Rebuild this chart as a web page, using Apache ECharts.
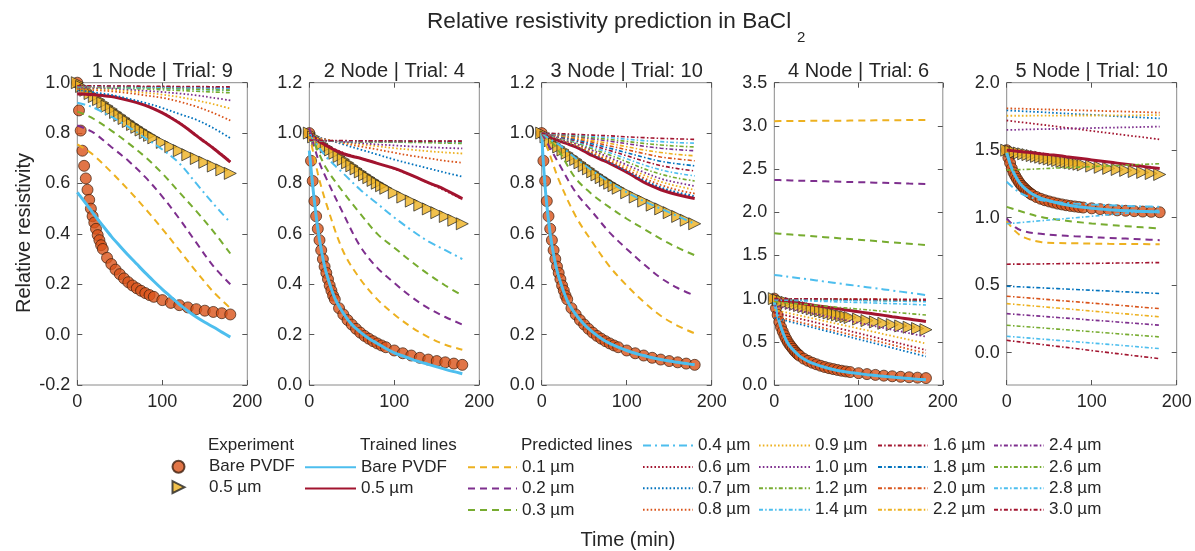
<!DOCTYPE html>
<html><head><meta charset="utf-8">
<script src="https://cdn.jsdelivr.net/npm/echarts@6/dist/echarts.min.js"></script>
<style>html,body{margin:0;padding:0;background:#fff}#c{width:1195px;height:551px}</style>
</head><body><div id="c"></div>
<script>
const FONT = '"Liberation Sans", Arial, Helvetica, sans-serif';
const TXT = '#262626';

const PANEL_TITLES = ['1 Node | Trial: 9', '2 Node | Trial: 4', '3 Node | Trial: 10', '4 Node | Trial: 6', '5 Node | Trial: 10'];
const THICKNESS = ['0.1 µm','0.2 µm','0.3 µm','0.4 µm','0.6 µm','0.7 µm','0.8 µm','0.9 µm','1.0 µm','1.2 µm','1.4 µm','1.6 µm','1.8 µm','2.0 µm','2.2 µm','2.4 µm','2.6 µm','2.8 µm','3.0 µm'];
const X_TICKS = [0, 100, 200];
const Y_MIN = [-0.2, 0, 0, 0, -0.24];
const Y_MAX = [1.0, 1.2, 1.2, 3.5, 2.0];
const Y_TICKS_5 = [0, 0.5, 1.0, 1.5, 2.0];

// Experiment data
const TE = [0,2,4,6,8,10,12,14,16,18,20,22,24,26,28,30,35,40,45,50,55,60,65,70,75,80,85,90,100,110,120,130,140,150,160,170,180];
const EXP_BARE = [1.0,0.89,0.81,0.73,0.67,0.62,0.575,0.535,0.5,0.47,0.445,0.42,0.395,0.375,0.355,0.34,0.305,0.28,0.258,0.24,0.223,0.208,0.195,0.184,0.174,0.165,0.157,0.15,0.137,0.126,0.117,0.108,0.101,0.095,0.09,0.085,0.08];
const EXP_BARE_P5 = [1.5,1.445,1.405,1.365,1.335,1.31,1.288,1.268,1.25,1.235,1.223,1.21,1.198,1.188,1.178,1.17,1.153,1.14,1.129,1.12,1.112,1.104,1.098,1.092,1.087,1.083,1.079,1.075,1.069,1.063,1.059,1.054,1.051,1.048,1.045,1.043,1.04];
const TT = [0,5,10,15,20,25,30,35,40,45,50,55,60,65,70,75,80,85,90,100,110,120,130,140,150,160,170,180];
const EXP_05 = [1.0,0.985,0.97,0.957,0.945,0.933,0.92,0.907,0.895,0.882,0.87,0.858,0.846,0.834,0.823,0.812,0.801,0.791,0.781,0.763,0.746,0.73,0.714,0.699,0.684,0.669,0.654,0.64];
const EXP_05_P5 = [1.5,1.493,1.485,1.479,1.473,1.467,1.46,1.454,1.448,1.441,1.435,1.429,1.423,1.417,1.412,1.406,1.401,1.396,1.391,1.382,1.373,1.365,1.357,1.35,1.342,1.335,1.327,1.32];

// Time grids for lines
const TL = [0,2,5,10,15,20,30,40,50,60,70,80,90,100,110,120,130,140,150,160,170,180];
const TP = [0,10,20,40,60,80,100,120,140,160,180];

// Panel 1
const P1_TRAINED_BARE = [0.565,0.556,0.543,0.521,0.498,0.475,0.432,0.39,0.352,0.315,0.28,0.245,0.212,0.18,0.15,0.12,0.094,0.07,0.049,0.03,0.01,-0.01];
const P1_TRAINED_05 = [0.955,0.955,0.955,0.954,0.953,0.952,0.949,0.945,0.938,0.93,0.921,0.91,0.896,0.88,0.861,0.84,0.816,0.79,0.765,0.74,0.713,0.685];
const P1_PRED = [
  [0.755,0.735,0.71,0.645,0.575,0.5,0.42,0.335,0.25,0.17,0.105],
  [0.83,0.817,0.8,0.745,0.69,0.625,0.548,0.46,0.365,0.272,0.2],
  [0.885,0.872,0.855,0.81,0.76,0.705,0.64,0.565,0.49,0.41,0.322],
  [0.92,0.912,0.9,0.865,0.825,0.78,0.735,0.68,0.6,0.52,0.445],
  [0.958,0.957,0.955,0.947,0.932,0.912,0.882,0.842,0.792,0.742,0.688],
  [0.97,0.967,0.962,0.952,0.937,0.92,0.9,0.876,0.853,0.82,0.78],
  [0.975,0.973,0.971,0.966,0.959,0.95,0.94,0.925,0.905,0.88,0.85],
  [0.978,0.977,0.976,0.972,0.967,0.96,0.953,0.943,0.93,0.915,0.897],
  [0.98,0.98,0.979,0.977,0.973,0.968,0.963,0.957,0.95,0.94,0.93],
  [0.982,0.982,0.981,0.979,0.977,0.975,0.972,0.969,0.966,0.963,0.96],
  [0.983,0.983,0.982,0.981,0.98,0.979,0.977,0.975,0.973,0.971,0.969],
  [0.986,0.986,0.986,0.985,0.985,0.984,0.984,0.983,0.983,0.982,0.982],
  [0.985,0.985,0.985,0.984,0.983,0.982,0.981,0.98,0.979,0.978,0.977],
  [0.985,0.985,0.984,0.984,0.983,0.982,0.981,0.98,0.979,0.978,0.976],
  [0.986,0.986,0.985,0.985,0.984,0.983,0.982,0.981,0.98,0.979,0.978],
  [0.987,0.987,0.986,0.986,0.985,0.984,0.983,0.982,0.981,0.98,0.979],
  [0.986,0.986,0.985,0.984,0.982,0.98,0.978,0.976,0.974,0.972,0.97],
  [0.986,0.986,0.986,0.985,0.984,0.983,0.982,0.981,0.98,0.979,0.978],
  [0.988,0.988,0.988,0.987,0.987,0.986,0.986,0.985,0.985,0.984,0.984]
];

// Panel 2
const P2_TRAINED_BARE = [0.93,0.86,0.76,0.62,0.52,0.445,0.345,0.285,0.24,0.21,0.185,0.165,0.145,0.128,0.115,0.103,0.092,0.082,0.072,0.062,0.053,0.045];
const P2_TRAINED_05 = [1.0,0.995,0.985,0.97,0.96,0.95,0.932,0.918,0.908,0.9,0.89,0.88,0.87,0.86,0.847,0.833,0.818,0.803,0.79,0.775,0.758,0.74];
const P2_PRED = [
  [1.0,0.84,0.72,0.53,0.42,0.34,0.28,0.23,0.19,0.16,0.14],
  [1.02,0.9,0.82,0.68,0.55,0.465,0.405,0.35,0.305,0.27,0.24],
  [1.0,0.93,0.86,0.765,0.68,0.6,0.545,0.49,0.44,0.395,0.355],
  [1.0,0.95,0.905,0.84,0.775,0.72,0.665,0.615,0.57,0.535,0.5],
  [1.0,0.97,0.952,0.922,0.902,0.88,0.858,0.832,0.802,0.771,0.737],
  [0.99,0.983,0.975,0.955,0.935,0.915,0.895,0.877,0.86,0.843,0.827],
  [0.985,0.98,0.975,0.96,0.947,0.935,0.922,0.91,0.9,0.89,0.882],
  [0.98,0.977,0.972,0.963,0.955,0.948,0.94,0.934,0.928,0.923,0.919],
  [0.975,0.972,0.97,0.965,0.96,0.955,0.951,0.947,0.944,0.941,0.939],
  [0.972,0.97,0.969,0.967,0.966,0.965,0.964,0.963,0.962,0.96,0.959],
  [0.97,0.969,0.968,0.967,0.966,0.966,0.965,0.965,0.964,0.964,0.963],
  [0.972,0.97,0.969,0.968,0.968,0.967,0.967,0.967,0.967,0.966,0.966],
  [0.97,0.969,0.968,0.967,0.967,0.966,0.966,0.966,0.966,0.965,0.965],
  [0.97,0.969,0.968,0.968,0.967,0.967,0.966,0.966,0.966,0.966,0.965],
  [0.971,0.97,0.969,0.968,0.968,0.967,0.967,0.967,0.966,0.966,0.966],
  [0.971,0.97,0.969,0.969,0.968,0.968,0.968,0.967,0.967,0.967,0.967],
  [0.97,0.969,0.968,0.967,0.966,0.965,0.965,0.964,0.964,0.963,0.963],
  [0.971,0.97,0.969,0.968,0.968,0.967,0.967,0.967,0.967,0.966,0.966],
  [0.972,0.971,0.97,0.97,0.969,0.969,0.969,0.968,0.968,0.968,0.968]
];

// Panel 3
const P3_TRAINED_BARE = [1.0,0.88,0.75,0.6,0.5,0.43,0.335,0.28,0.24,0.21,0.185,0.165,0.15,0.137,0.126,0.117,0.108,0.101,0.095,0.09,0.085,0.08];
const P3_TRAINED_05 = [1.0,0.997,0.993,0.985,0.977,0.97,0.958,0.945,0.928,0.91,0.895,0.88,0.863,0.845,0.825,0.805,0.789,0.775,0.764,0.755,0.747,0.74];
const P3_PRED = [
  [1.0,0.91,0.815,0.67,0.565,0.47,0.395,0.33,0.275,0.235,0.205],
  [1.0,0.94,0.88,0.765,0.685,0.605,0.54,0.48,0.425,0.385,0.355],
  [1.0,0.97,0.93,0.82,0.755,0.705,0.66,0.62,0.58,0.545,0.515],
  [1.0,0.975,0.955,0.9,0.85,0.805,0.765,0.73,0.7,0.67,0.64],
  [1.0,0.99,0.975,0.949,0.916,0.883,0.847,0.811,0.781,0.76,0.745],
  [1.0,0.99,0.975,0.95,0.918,0.885,0.85,0.815,0.785,0.765,0.75],
  [1.0,0.99,0.976,0.952,0.921,0.89,0.856,0.822,0.794,0.774,0.76],
  [1.0,0.991,0.978,0.955,0.926,0.897,0.865,0.834,0.807,0.789,0.775],
  [1.0,0.992,0.979,0.958,0.931,0.903,0.874,0.845,0.819,0.803,0.79],
  [1.0,0.992,0.981,0.962,0.937,0.913,0.886,0.859,0.837,0.821,0.81],
  [1.0,0.993,0.983,0.966,0.944,0.922,0.898,0.874,0.854,0.84,0.83],
  [1.0,0.994,0.985,0.97,0.95,0.931,0.91,0.889,0.871,0.859,0.85],
  [1.0,0.995,0.987,0.974,0.957,0.94,0.922,0.904,0.888,0.878,0.87],
  [1.0,0.996,0.989,0.978,0.964,0.949,0.934,0.919,0.905,0.897,0.89],
  [1.0,0.996,0.991,0.982,0.97,0.959,0.946,0.933,0.923,0.915,0.91],
  [1.0,0.997,0.993,0.986,0.977,0.968,0.958,0.948,0.94,0.934,0.93],
  [1.0,0.998,0.995,0.989,0.982,0.975,0.967,0.959,0.953,0.948,0.945],
  [1.0,0.998,0.996,0.992,0.987,0.982,0.976,0.97,0.966,0.962,0.96],
  [1.0,0.999,0.998,0.995,0.992,0.989,0.985,0.982,0.979,0.977,0.975]
];

// Panel 4
const P4_TRAINED_BARE = [0.96,0.88,0.76,0.61,0.5,0.43,0.335,0.275,0.235,0.205,0.18,0.16,0.145,0.132,0.12,0.11,0.1,0.092,0.083,0.075,0.067,0.06];
const P4_TRAINED_05 = [0.99,0.987,0.983,0.976,0.969,0.962,0.947,0.933,0.919,0.905,0.891,0.877,0.862,0.848,0.834,0.82,0.806,0.791,0.777,0.763,0.749,0.735];
const P4_PRED = [
  [3.055,3.056,3.057,3.058,3.059,3.06,3.062,3.064,3.065,3.067,3.068],
  [2.374,2.371,2.368,2.363,2.358,2.353,2.348,2.343,2.338,2.332,2.327],
  [1.756,1.749,1.742,1.727,1.712,1.697,1.682,1.667,1.651,1.636,1.621],
  [1.274,1.262,1.249,1.224,1.198,1.171,1.146,1.12,1.094,1.068,1.042],
  [0.84,0.816,0.792,0.745,0.697,0.648,0.6,0.551,0.502,0.454,0.405],
  [0.78,0.755,0.73,0.68,0.63,0.58,0.53,0.48,0.43,0.38,0.33],
  [0.8,0.776,0.752,0.704,0.656,0.608,0.56,0.512,0.464,0.415,0.367],
  [0.87,0.848,0.826,0.783,0.74,0.697,0.654,0.611,0.567,0.524,0.48],
  [0.92,0.9,0.88,0.84,0.8,0.76,0.72,0.68,0.64,0.6,0.56],
  [0.965,0.956,0.948,0.931,0.913,0.896,0.879,0.862,0.844,0.827,0.81],
  [0.985,0.982,0.979,0.973,0.967,0.961,0.955,0.949,0.942,0.935,0.926],
  [1.0,1.0,0.999,0.998,0.997,0.996,0.995,0.994,0.993,0.992,0.992],
  [0.995,0.994,0.993,0.991,0.989,0.987,0.984,0.982,0.98,0.977,0.975],
  [0.995,0.994,0.993,0.992,0.99,0.989,0.987,0.985,0.984,0.982,0.98],
  [0.996,0.995,0.995,0.994,0.993,0.992,0.99,0.989,0.988,0.986,0.985],
  [0.994,0.993,0.992,0.99,0.989,0.987,0.985,0.983,0.98,0.978,0.975],
  [0.993,0.992,0.991,0.989,0.986,0.984,0.981,0.978,0.976,0.973,0.97],
  [0.99,0.989,0.988,0.985,0.983,0.98,0.977,0.974,0.971,0.968,0.965],
  [1.0,0.999,0.999,0.998,0.996,0.995,0.993,0.991,0.989,0.987,0.985]
];

// Panel 5
const P5_TRAINED_BARE = [1.48,1.44,1.38,1.31,1.26,1.225,1.175,1.145,1.125,1.108,1.095,1.085,1.077,1.07,1.064,1.059,1.055,1.052,1.049,1.046,1.044,1.042];
const P5_TRAINED_05 = [1.5,1.499,1.497,1.494,1.49,1.487,1.481,1.474,1.467,1.46,1.452,1.444,1.436,1.428,1.42,1.412,1.404,1.396,1.388,1.38,1.372,1.365];
const P5_PRED = [
  [0.975,0.9,0.855,0.82,0.812,0.81,0.808,0.806,0.805,0.804,0.803],
  [0.995,0.93,0.9,0.88,0.87,0.862,0.856,0.85,0.845,0.839,0.833],
  [1.08,1.06,1.04,1.005,0.985,0.97,0.957,0.947,0.937,0.928,0.92],
  [1.266,1.21,1.17,1.13,1.115,1.105,1.098,1.092,1.087,1.083,1.08],
  [1.72,1.712,1.705,1.69,1.674,1.659,1.643,1.627,1.611,1.596,1.58],
  [1.795,1.792,1.788,1.782,1.775,1.768,1.762,1.755,1.748,1.742,1.735],
  [1.81,1.808,1.807,1.803,1.8,1.796,1.793,1.789,1.786,1.782,1.778],
  [1.755,1.755,1.755,1.756,1.756,1.757,1.757,1.758,1.758,1.759,1.76],
  [1.65,1.651,1.653,1.656,1.658,1.661,1.664,1.667,1.669,1.672,1.675],
  [1.352,1.355,1.357,1.362,1.368,1.373,1.378,1.384,1.389,1.395,1.4],
  [0.955,0.96,0.966,0.977,0.988,0.999,1.01,1.021,1.033,1.044,1.055],
  [0.655,0.656,0.656,0.657,0.659,0.66,0.661,0.663,0.664,0.666,0.667],
  [0.492,0.489,0.486,0.48,0.474,0.468,0.462,0.456,0.45,0.444,0.438],
  [0.418,0.413,0.408,0.398,0.387,0.377,0.367,0.357,0.347,0.336,0.326],
  [0.363,0.358,0.352,0.341,0.33,0.319,0.308,0.297,0.287,0.276,0.265],
  [0.289,0.284,0.279,0.27,0.26,0.251,0.241,0.232,0.222,0.213,0.203],
  [0.203,0.198,0.193,0.184,0.174,0.165,0.155,0.145,0.135,0.126,0.116],
  [0.121,0.116,0.111,0.101,0.091,0.081,0.071,0.061,0.051,0.04,0.03],
  [0.091,0.083,0.076,0.061,0.046,0.031,0.015,0.0,-0.015,-0.03,-0.045]
];

// ---- styling ----
const COL = {y:'#EDB120', p:'#7E2F8E', g:'#77AC30', lb:'#4DBEEE', dr:'#A2142F', b:'#0072BD', o:'#D95319'};
const PRED_COLORS = [COL.y,COL.p,COL.g,COL.lb,COL.dr,COL.b,COL.o,COL.y,COL.p,COL.g,COL.lb,COL.dr,COL.b,COL.o,COL.y,COL.p,COL.g,COL.lb,COL.dr];
const DASH = [7,5], DASHDOT_BIG = [8,4,2,4], DOT = [1.6,2.2], DASHDOT = [4,2.2,1.5,2.2];
const PRED_DASH = [DASH,DASH,DASH,DASHDOT_BIG,DOT,DOT,DOT,DOT,DOT,DASHDOT,DASHDOT,DASHDOT,DASHDOT,DASHDOT,DASHDOT,DASHDOT,DASHDOT,DASHDOT,DASHDOT];
const PRED_WIDTH = [2,2,2,2,1.8,1.8,1.8,1.8,1.8,1.6,1.6,1.6,1.6,1.6,1.6,1.6,1.6,1.6,1.6];

const GRID_LEFT = [77.3, 309.3, 541.7, 774.3, 1006.7];
const GRID_W = [170, 170, 170, 168.5, 170];
const GRID_TOP = 82.7, GRID_H = 302.3;

const PANELS = [
  {bare: EXP_BARE, p05: EXP_05, tb: P1_TRAINED_BARE, t05: P1_TRAINED_05, pred: P1_PRED},
  {bare: EXP_BARE, p05: EXP_05, tb: P2_TRAINED_BARE, t05: P2_TRAINED_05, pred: P2_PRED},
  {bare: EXP_BARE, p05: EXP_05, tb: P3_TRAINED_BARE, t05: P3_TRAINED_05, pred: P3_PRED},
  {bare: EXP_BARE, p05: EXP_05, tb: P4_TRAINED_BARE, t05: P4_TRAINED_05, pred: P4_PRED},
  {bare: EXP_BARE_P5, p05: EXP_05_P5, tb: P5_TRAINED_BARE, t05: P5_TRAINED_05, pred: P5_PRED}
];

function pts(ts, vs) { return ts.map((t, i) => [t, vs[i]]); }
const fmt = v => (Math.abs(v) < 1e-9 ? '0.0' : v.toFixed(1));
const TRI = 'path://M0,0L10,5L0,10Z';

const grid = [], xAxis = [], yAxis = [], series = [];
for (let p = 0; p < 5; p++) {
  grid.push({left: GRID_LEFT[p], top: GRID_TOP, width: GRID_W[p], height: GRID_H,
    show: true, borderColor: '#8a8a8a', borderWidth: 1, backgroundColor: 'transparent'});
}
const tickStyle = {inside: true, length: 5, lineStyle: {color: '#555', width: 1}};
const noLine = {show: false, onZero: false};
for (let p = 0; p < 5; p++) {
  xAxis.push({type: 'value', gridIndex: p, position: 'bottom', min: 0, max: 200, interval: 100,
    axisLine: noLine, axisTick: tickStyle, splitLine: {show: false},
    axisLabel: {fontSize: 18, color: TXT, margin: 8, fontFamily: FONT, showMinLabel: true, showMaxLabel: true}});
}
for (let p = 0; p < 5; p++) {
  xAxis.push({type: 'value', gridIndex: p, position: 'top', min: 0, max: 200, interval: 100,
    axisLine: noLine, axisTick: tickStyle, splitLine: {show: false}, axisLabel: {show: false}});
}
for (let p = 0; p < 5; p++) {
  const y = {type: 'value', gridIndex: p, position: 'left', min: Y_MIN[p], max: Y_MAX[p],
    axisLine: noLine, axisTick: Object.assign({}, tickStyle), splitLine: {show: false},
    axisLabel: {fontSize: 18, color: TXT, margin: 7, fontFamily: FONT, formatter: fmt, showMinLabel: true, showMaxLabel: true}};
  if (p === 4) {
    y.axisLabel.customValues = Y_TICKS_5;
    y.axisTick = Object.assign({}, tickStyle, {customValues: Y_TICKS_5});
  } else {
    y.interval = (p === 3) ? 0.5 : 0.2;
  }
  yAxis.push(y);
}
for (let p = 0; p < 5; p++) {
  const y = {type: 'value', gridIndex: p, position: 'right', min: Y_MIN[p], max: Y_MAX[p],
    axisLine: noLine, axisTick: Object.assign({}, tickStyle), splitLine: {show: false}, axisLabel: {show: false}};
  if (p === 4) {
    y.axisTick = Object.assign({}, tickStyle, {customValues: Y_TICKS_5});
    y.axisLabel = {show: false, customValues: Y_TICKS_5};
  } else {
    y.interval = (p === 3) ? 0.5 : 0.2;
  }
  yAxis.push(y);
}

for (let p = 0; p < 5; p++) {
  const P = PANELS[p];
  series.push({type: 'scatter', name: 'Exp Bare PVDF', xAxisIndex: p, yAxisIndex: p,
    data: pts(TE, P.bare), symbol: 'circle', symbolSize: 11, z: 1, silent: true,
    itemStyle: {color: '#D95319', borderColor: '#3d1e0c', borderWidth: 0.9}});
  series.push({type: 'scatter', name: 'Exp 0.5 µm', xAxisIndex: p, yAxisIndex: p,
    data: pts(TT, P.p05), symbol: TRI, symbolSize: 12, z: 1, silent: true,
    itemStyle: {color: '#EDB120', borderColor: '#222', borderWidth: 0.9}});
  series.push({type: 'line', name: 'Trn Bare PVDF', xAxisIndex: p, yAxisIndex: p,
    data: pts(TL, P.tb), symbol: 'none', showSymbol: false, smooth: 0.3, z: 2, silent: true,
    lineStyle: {color: '#4DBEEE', width: 3}, itemStyle: {color: '#4DBEEE'}});
  series.push({type: 'line', name: 'Trn 0.5 µm', xAxisIndex: p, yAxisIndex: p,
    data: pts(TL, P.t05), symbol: 'none', showSymbol: false, smooth: 0.3, z: 2, silent: true,
    lineStyle: {color: '#A2142F', width: 3}, itemStyle: {color: '#A2142F'}});
  for (let k = 0; k < THICKNESS.length; k++) {
    series.push({type: 'line', name: THICKNESS[k], xAxisIndex: p, yAxisIndex: p,
      data: pts(TP, P.pred[k]), symbol: 'none', showSymbol: false, smooth: 0.35, z: 3, silent: true,
      lineStyle: {color: PRED_COLORS[k], width: PRED_WIDTH[k], type: PRED_DASH[k]},
      itemStyle: {color: PRED_COLORS[k]}});
  }
}

const strip = n => n.replace(/^(Exp|Trn) /, '');
function legendCol(left, top, w, h, gap, data, hideSym) {
  const l = {orient: 'vertical', left: left, top: top, padding: 0, itemWidth: w, itemHeight: h,
    itemGap: gap, selectedMode: false, data: data, formatter: strip,
    textStyle: {fontSize: 17, color: TXT, fontFamily: FONT}};
  if (hideSym) l.itemStyle = {opacity: 0};
  return l;
}
const legend = [
  legendCol(171.5, 458.2, 51, 12, 3.5, ['Exp Bare PVDF', 'Exp 0.5 µm'], false),
  legendCol(304, 458.7, 51, 14, 4.4, ['Trn Bare PVDF', 'Trn 0.5 µm'], true),
  legendCol(467, 458.7, 49, 14, 4.4, THICKNESS.slice(0, 3), true),
  legendCol(642, 437, 50, 14, 4.4, THICKNESS.slice(3, 7), true),
  legendCol(758, 437, 51, 14, 4.4, THICKNESS.slice(7, 11), true),
  legendCol(877, 437, 50, 14, 4.4, THICKNESS.slice(11, 15), true),
  legendCol(993, 437, 50, 14, 4.4, THICKNESS.slice(15, 19), true)
];

function txt(x, y, text, size, align, rot) {
  const g = {type: 'text', x: x, y: y, silent: true,
    style: {text: text, fontSize: size, fontFamily: FONT, fill: TXT,
      align: align, verticalAlign: 'middle', textAlign: align, textVerticalAlign: 'middle'}};
  if (rot) g.rotation = rot;
  return g;
}
const graphic = [
  txt(427, 22, 'Relative resistivity prediction in BaCl', 22.6, 'left'),
  txt(797, 37.5, '2', 15, 'left'),
  txt(24, 233, 'Relative resistivity', 20, 'center', Math.PI / 2),
  txt(628, 540.5, 'Time (min)', 20, 'center'),
  txt(208, 445, 'Experiment', 17, 'left'),
  txt(360, 445, 'Trained lines', 17, 'left'),
  txt(521, 445, 'Predicted lines', 17, 'left')
];
for (let p = 0; p < 5; p++) {
  graphic.push(txt(GRID_LEFT[p] + GRID_W[p] / 2, 71, PANEL_TITLES[p], 20, 'center'));
}

const chart = echarts.init(document.getElementById('c'), null, {renderer: 'canvas', width: 1195, height: 551});
chart.setOption({
  animation: false,
  backgroundColor: '#fff',
  textStyle: {fontFamily: FONT},
  grid, xAxis, yAxis, series, legend, graphic
});
</script>
</body></html>
